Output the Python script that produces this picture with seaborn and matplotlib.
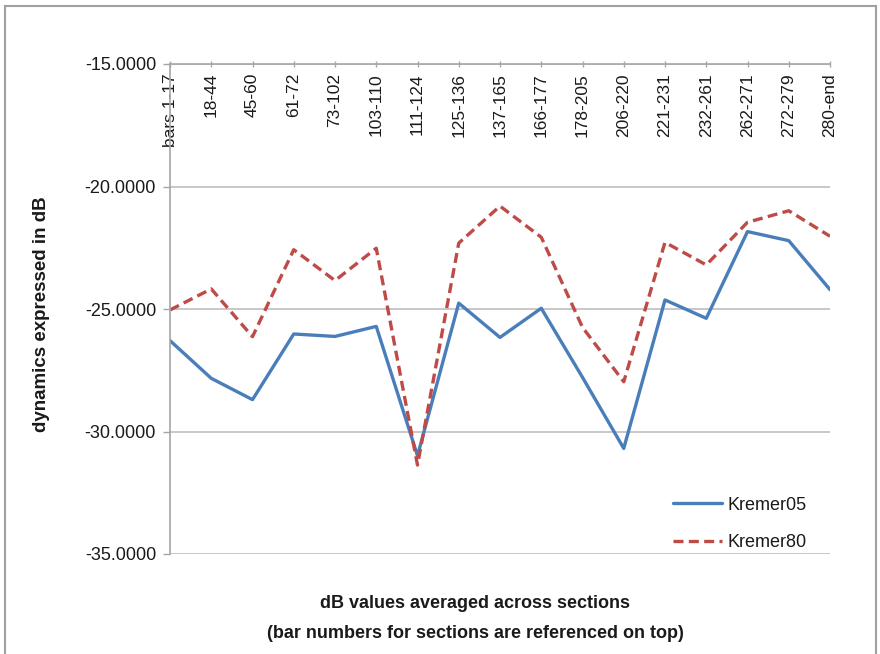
import matplotlib
matplotlib.use("Agg")
import matplotlib.pyplot as plt
import matplotlib.patches as mpatches
from matplotlib.ticker import FormatStrFormatter
import seaborn as sns
import pandas as pd

sections = ["bars 1-17", "18-44", "45-60", "61-72", "73-102", "103-110",
            "111-124", "125-136", "137-165", "166-177", "178-205", "206-220",
            "221-231", "232-261", "262-271", "272-279", "280-end"]
kremer05 = [-26.29, -27.83, -28.70, -26.02, -26.12, -25.71, -30.99, -24.76,
            -26.16, -24.97, -27.79, -30.69, -24.63, -25.38, -21.84, -22.21,
            -24.21]
kremer80 = [-25.04, -24.18, -26.13, -22.58, -23.84, -22.52, -31.37, -22.31,
            -20.80, -22.07, -25.75, -27.97, -22.28, -23.20, -21.46, -20.99,
            -22.03]
y_ticks = [-35, -30, -25, -20, -15]

sns.set_style("white")
plt.rcParams["font.family"] = ["Liberation Sans", "DejaVu Sans"]

pos = list(range(len(sections)))
df = pd.DataFrame({
    "pos": pos * 2,
    "value": kremer05 + kremer80,
    "series": ["Kremer05"] * len(pos) + ["Kremer80"] * len(pos),
})

fig = plt.figure(figsize=(8.8, 6.54), dpi=100)
ax = fig.add_axes([170 / 880, 1 - 554 / 654, 660 / 880, 490 / 654])

palette = {"Kremer05": "#4A7EBB", "Kremer80": "#BE4B48"}
sns.lineplot(data=df, x="pos", y="value", hue="series", palette=palette,
             style="series", dashes={"Kremer05": "", "Kremer80": (3, 1.6)},
             linewidth=2.4, ax=ax, legend=True)

ax.set_xlim(0, len(sections) - 1)
ax.set_ylim(-35, -15)
ax.set_yticks(y_ticks)
ax.yaxis.set_major_formatter(FormatStrFormatter("%.4f"))
ax.yaxis.grid(True, color="#BFBFBF", linewidth=1.2)
ax.set_axisbelow(True)

for s in ["right", "bottom"]:
    ax.spines[s].set_visible(False)
for s in ["left", "top"]:
    ax.spines[s].set_color("#A6A6A6")
    ax.spines[s].set_linewidth(1.2)

ax.set_xticks(pos)
ax.set_xticklabels(sections, rotation=90)
ax.tick_params(axis="x", top=True, bottom=False, labeltop=True,
               labelbottom=False, direction="inout", length=5, width=1,
               color="#A6A6A6", pad=-9, labelsize=12.5, labelcolor="#1a1a1a")
for lab in ax.get_xticklabels():
    lab.set_va("top")
ax.tick_params(axis="y", left=True, direction="out", length=5, width=1,
               color="#A6A6A6", labelsize=13, labelcolor="#1a1a1a", pad=5)

ax.set_xlabel("")
ax.set_ylabel("dynamics expressed in dB", fontsize=13.5, fontweight="bold",
              color="#1a1a1a")
ax.yaxis.set_label_coords((50 - 170) / 660, (554 - 314) / 490)

leg = ax.legend(loc="center left", bbox_to_anchor=(487 / 660, (554 - 524) / 490),
                frameon=False, fontsize=13, handlelength=2.7,
                handletextpad=0.3, labelspacing=1.15)
for t in leg.get_texts():
    t.set_color("#1a1a1a")

fig.text(475 / 880, 1 - 604 / 654, "dB values averaged across sections",
         ha="center", va="center", fontsize=13, fontweight="bold",
         color="#1a1a1a")
fig.text(475 / 880, 1 - 634 / 654,
         "(bar numbers for sections are referenced on top)",
         ha="center", va="center", fontsize=13, fontweight="bold",
         color="#1a1a1a")

# chart frame
fig.patches.append(mpatches.Rectangle((5 / 880, -0.05), 871 / 880, 1.05 - 6 / 654,
                                      transform=fig.transFigure, fill=False,
                                      edgecolor="#A0A0A0", linewidth=1.5))

fig.savefig("out.png", dpi=100)
